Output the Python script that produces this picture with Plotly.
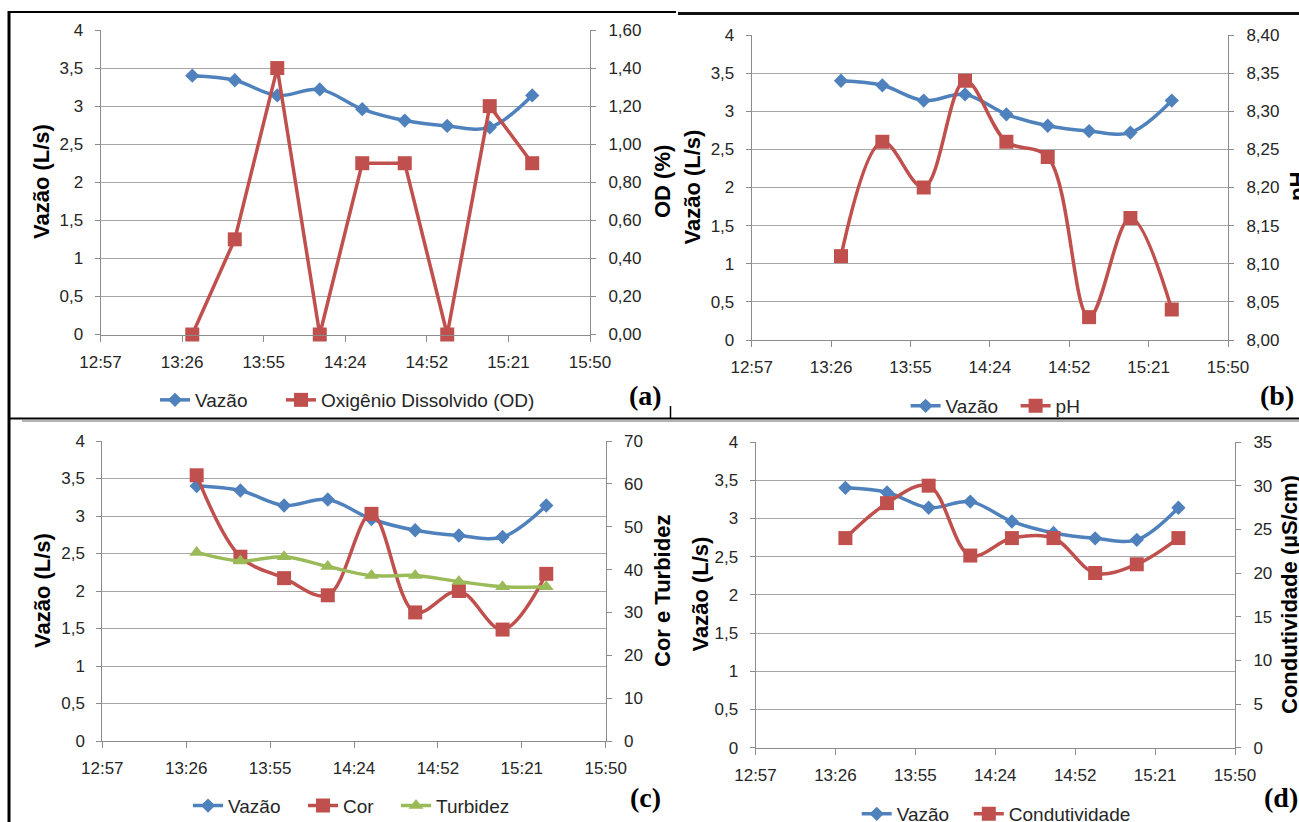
import plotly.graph_objects as go

# ---------------- data ----------------
times = ["13:30", "13:45", "14:00", "14:15", "14:30", "14:45", "15:00", "15:15", "15:30"]
vazao = [3.40, 3.34, 3.14, 3.22, 2.96, 2.81, 2.74, 2.72, 3.14]
od = [0.00, 0.50, 1.40, 0.00, 0.90, 0.90, 0.00, 1.20, 0.90]
ph = [8.11, 8.26, 8.20, 8.34, 8.26, 8.24, 8.03, 8.16, 8.04]
cor = [62, 43, 38, 34, 53, 30, 35, 26, 39]
turbidez = [44, 42, 43, 40.7, 38.6, 38.6, 37.2, 36, 36]
condutividade = [24, 28, 30, 22, 24, 24, 20, 21, 24]

x_tick_times = ["12:57:36", "13:26:24", "13:55:12", "14:24:00", "14:52:48", "15:21:36", "15:50:24"]
x_tick_labels = ["12:57", "13:26", "13:55", "14:24", "14:52", "15:21", "15:50"]

vazao_ticks = [0, 0.5, 1, 1.5, 2, 2.5, 3, 3.5, 4]
vazao_labels = ["0", "0,5", "1", "1,5", "2", "2,5", "3", "3,5", "4"]
od_ticks = [0, 0.2, 0.4, 0.6, 0.8, 1.0, 1.2, 1.4, 1.6]
od_labels = ["0,00", "0,20", "0,40", "0,60", "0,80", "1,00", "1,20", "1,40", "1,60"]
ph_ticks = [8.00, 8.05, 8.10, 8.15, 8.20, 8.25, 8.30, 8.35, 8.40]
ph_labels = ["8,00", "8,05", "8,10", "8,15", "8,20", "8,25", "8,30", "8,35", "8,40"]
ct_ticks = [0, 10, 20, 30, 40, 50, 60, 70]
cond_ticks = [0, 5, 10, 15, 20, 25, 30, 35]

DATE = "2000-01-01 "
xs = [DATE + t for t in times]
xtv = [DATE + t for t in x_tick_times]

# ---------------- style ----------------
W, H = 1299, 822
BLUE, RED, GREEN = "#4F81BD", "#C0504D", "#9BBB59"
GRID = "#A6A6A6"
AXIS = "#8C8C8C"
TXT = "#262626"
FONT = "Liberation Sans, Arial, sans-serif"
SERIF = "Liberation Serif, Times New Roman, serif"


def px(x):
    return x / W


def py(y):
    return 1 - y / H


# panel plot areas in pixels: (x0, x1, ytop, ybottom)
panels = {
    "a": (100.5, 590.0, 30.0, 334.5),
    "b": (751.7, 1228.0, 35.0, 340.0),
    "c": (102.3, 605.7, 441.0, 741.0),
    "d": (755.5, 1235.0, 442.0, 747.7),
}

fig = go.Figure()

layout = dict(
    width=W, height=H,
    margin=dict(l=0, r=0, t=0, b=0, pad=0, autoexpand=False),
    paper_bgcolor="white", plot_bgcolor="white",
    font=dict(family=FONT, size=17, color=TXT),
    showlegend=True,
)

right_axes = {
    "a": (od_ticks, od_labels, [0, 1.6]),
    "b": (ph_ticks, ph_labels, [8.0, 8.4]),
    "c": (ct_ticks, [str(v) for v in ct_ticks], [0, 70]),
    "d": (cond_ticks, [str(v) for v in cond_ticks], [0, 35]),
}

for i, key in enumerate(["a", "b", "c", "d"]):
    x0, x1, yt, yb = panels[key]
    xn = "xaxis" if i == 0 else f"xaxis{i + 1}"
    yl_idx = 2 * i + 1
    yr_idx = 2 * i + 2
    yln = "yaxis" if yl_idx == 1 else f"yaxis{yl_idx}"
    yrn = f"yaxis{yr_idx}"
    xref = "x" if i == 0 else f"x{i + 1}"
    ylref = "y" if yl_idx == 1 else f"y{yl_idx}"
    layout[xn] = dict(
        domain=[px(x0), px(x1)], anchor=ylref, type="date",
        range=[xtv[0], xtv[-1]], tickvals=xtv, ticktext=x_tick_labels,
        showgrid=False, showline=True, linecolor=AXIS, linewidth=1,
        ticks="outside", ticklen=6, tickcolor=AXIS, ticklabelstandoff=6,
        tickfont=dict(size=17, color=TXT), zeroline=False, automargin=False,
    )
    layout[yln] = dict(
        domain=[py(yb), py(yt)], anchor=xref, range=[0, 4],
        tickvals=vazao_ticks, ticktext=vazao_labels,
        showgrid=True, gridcolor=GRID, gridwidth=1,
        showline=True, linecolor=AXIS, linewidth=1,
        ticks="outside", ticklen=5, tickcolor=AXIS, ticklabelstandoff=8,
        tickfont=dict(size=17, color=TXT), zeroline=False, automargin=False,
    )
    tv, tt, rr = right_axes[key]
    layout[yrn] = dict(
        overlaying=ylref, side="right", anchor=xref, range=rr,
        tickvals=tv, ticktext=tt, showgrid=False,
        showline=True, linecolor=AXIS, linewidth=1,
        ticks="outside", ticklen=5, tickcolor=AXIS, ticklabelstandoff=9,
        tickfont=dict(size=17, color=TXT), zeroline=False, automargin=False,
    )

# ---------------- traces ----------------
series = {
    "a": [("Vazão", vazao, "left", BLUE, "diamond", 11, "spline"),
          ("Oxigênio Dissolvido (OD)", od, "right", RED, "square", 14, "linear")],
    "b": [("Vazão", vazao, "left", BLUE, "diamond", 11, "spline"),
          ("pH", ph, "right", RED, "square", 14, "spline")],
    "c": [("Vazão", vazao, "left", BLUE, "diamond", 11, "spline"),
          ("Cor", cor, "right", RED, "square", 14, "spline"),
          ("Turbidez", turbidez, "right", GREEN, "triangle-up", 13, "spline")],
    "d": [("Vazão", vazao, "left", BLUE, "diamond", 11, "spline"),
          ("Condutividade", condutividade, "right", RED, "square", 14, "spline")],
}

# legend item positions: (line start x px, center y px)
legend_pos = {
    "a": [(160, 400), (286, 400)],
    "b": [(910.6, 406), (1020.6, 406)],
    "c": [(193, 805.7), (308, 805.7), (401, 805.7)],
    "d": [(861.7, 814), (973.8, 814)],
}

leg_n = 0
for i, key in enumerate(["a", "b", "c", "d"]):
    xref = "x" if i == 0 else f"x{i + 1}"
    ylref = "y" if i == 0 else f"y{2 * i + 1}"
    yrref = f"y{2 * i + 2}"
    for j, (name, vals, side, color, sym, msize, shape) in enumerate(series[key]):
        leg_n += 1
        lname = "legend" if leg_n == 1 else f"legend{leg_n}"
        line = dict(color=color, width=3.5, shape=shape)
        if shape == "spline":
            line["smoothing"] = 1.0
        fig.add_trace(go.Scatter(
            x=xs, y=vals, name=name, mode="lines+markers",
            xaxis=xref, yaxis=ylref if side == "left" else yrref,
            line=line, marker=dict(symbol=sym, size=msize, color=color,
                                   line=dict(width=0)),
            legend=lname, cliponaxis=False,
        ))
        lx, ly = legend_pos[key][j]
        layout[lname] = dict(
            x=px(lx - 5), y=py(ly), xanchor="left", yanchor="middle",
            orientation="h", bgcolor="rgba(0,0,0,0)",
            font=dict(family=FONT, size=19, color=TXT),
            itemclick=False, itemdoubleclick=False,
        )

# ---------------- annotations (axis titles, panel letters) ----------------
ann = []
titles = [
    ("Vazão (L/s)", 41, 182), ("OD (%)", 662, 182),
    ("Vazão (L/s)", 692, 187.5), ("pH", 1297, 187),
    ("Vazão (L/s)", 42, 591), ("Cor e Turbidez", 662, 591),
    ("Vazão (L/s)", 700, 594.5), ("Condutividade (µS/cm)", 1289, 595),
]
for text, x, y in titles:
    ann.append(dict(
        text=f"<b>{text}</b>", x=px(x), y=py(y), xref="paper", yref="paper",
        xanchor="center", yanchor="middle", textangle=-90, showarrow=False,
        font=dict(family=FONT, size=22, color="#000000"),
    ))
letters = [("(a)", 645, 395), ("(b)", 1277, 395), ("(c)", 645, 797), ("(d)", 1281, 797)]
for text, x, y in letters:
    ann.append(dict(
        text=f"<b>{text}</b>", x=px(x), y=py(y), xref="paper", yref="paper",
        xanchor="center", yanchor="middle", showarrow=False,
        font=dict(family=SERIF, size=28, color="#000000"),
    ))
layout["annotations"] = ann

# ---------------- frame lines ----------------
def seg(x0, y0, x1, y1, w, c="#000000"):
    return dict(type="line", xref="paper", yref="paper",
                x0=px(x0), y0=py(y0), x1=px(x1), y1=py(y1),
                line=dict(color=c, width=w), layer="above")

layout["shapes"] = [
    seg(8, 12, 676, 12, 2),
    seg(678, 13.5, 1299, 13.5, 3, "#111111"),
    seg(9, 11, 9, 822, 3),
    seg(8, 418.5, 1299, 418.5, 2),
    seg(22, 421, 1299, 421, 1.5, "#9A9A9A"),
    seg(670.5, 406, 670.5, 419, 1.5),
]

fig.update_layout(**layout)
fig.write_html(
    "out.html",
    config={"displayModeBar": False},
    post_script="document.body.style.margin='0px';document.body.style.overflow='hidden';",
)
